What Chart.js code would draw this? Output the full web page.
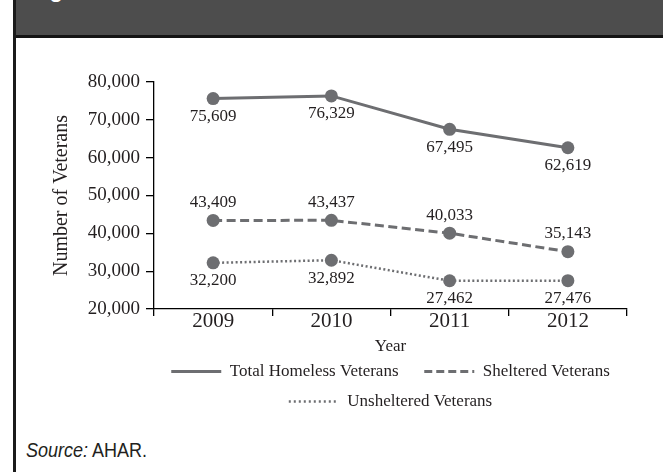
<!DOCTYPE html>
<html>
<head>
<meta charset="utf-8">
<script src="https://cdn.jsdelivr.net/npm/chart.js@4.4.1/dist/chart.umd.min.js"></script>
<style>
  html, body { margin: 0; padding: 0; background: #fff; }
  body { width: 663px; height: 472px; position: relative; overflow: hidden; }
  #frame { position: absolute; left: 13px; top: 0; width: 3px; height: 472px; background: #1b1b1b; }
  #header { position: absolute; left: 16px; top: 0; right: 0; height: 35px; background: #4d4d4d; border-bottom: 3px solid #141414; overflow: hidden; }
  #header span { position: absolute; left: 14px; top: -21px; font: bold 22px/22px "Liberation Sans", Arial, sans-serif; color: #fff; white-space: nowrap; }
  #wrap { position: absolute; left: 16px; top: 38px; width: 647px; height: 395px; }
  #source { position: absolute; left: 26px; top: 438px; font: 20px/24px "Liberation Sans Narrow", "Liberation Sans", Arial, sans-serif; color: #231f20; transform: scaleX(0.9); transform-origin: left top; white-space: nowrap; }
</style>
</head>
<body>
<div id="frame"></div>
<div id="header"><span>Figure</span></div>
<div id="wrap"><canvas id="chart"></canvas></div>
<div id="source"><i>Source:</i> AHAR.</div>
<script>
// data
const years = ['2009', '2010', '2011', '2012'];
const totalHomeless = [75609, 76329, 67495, 62619];
const sheltered = [43409, 43437, 40033, 35143];
const unsheltered = [32200, 32892, 27462, 27476];
const seriesNames = ['Total Homeless Veterans', 'Sheltered Veterans', 'Unsheltered Veterans'];
const yMin = 20000, yMax = 80000, yStep = 10000;

// styling
const gray = '#6d6e71';
const ink = '#231f20';
const serif = "'Liberation Serif', 'Times New Roman', serif";
const dashes = [[], [9, 4.5], [2, 2.5]];
const legendDashes = [[], [8, 4], [2, 3]];
const widths = [3, 3, 2.5];
const labelOffsets = [18, -18, 18]; // below, above, below

const fmt = v => v.toLocaleString('en-US');

// draws the value next to each point
const valueLabels = {
    id: 'valueLabels',
    afterDatasetsDraw(chart) {
        const ctx = chart.ctx;
        ctx.save();
        ctx.font = '17px ' + serif;
        ctx.fillStyle = ink;
        ctx.textAlign = 'center';
        ctx.textBaseline = 'middle';
        chart.data.datasets.forEach((ds, i) => {
            chart.getDatasetMeta(i).data.forEach((pt, j) => {
                ctx.fillText(fmt(ds.data[j]), pt.x, pt.y + labelOffsets[i]);
            });
        });
        ctx.restore();
    }
};

const datasets = [totalHomeless, sheltered, unsheltered].map((values, i) => ({
    label: seriesNames[i],
    data: values,
    borderColor: gray,
    backgroundColor: gray,
    borderWidth: widths[i],
    borderDash: dashes[i],
    pointRadius: 6.5,
    pointHoverRadius: 6.5,
    pointBackgroundColor: gray,
    pointBorderWidth: 0,
    tension: 0
}));

new Chart(document.getElementById('chart'), {
    type: 'line',
    data: { labels: years, datasets },
    options: {
        responsive: true,
        maintainAspectRatio: false,
        animation: false,
        events: [],
        layout: { padding: { left: 30, top: 44, right: 36, bottom: 13 } },
        plugins: {
            tooltip: { enabled: false },
            legend: {
                position: 'bottom',
                fullSize: false,
                labels: {
                    usePointStyle: true,
                    pointStyle: 'line',
                    pointStyleWidth: 50,
                    padding: 13,
                    color: ink,
                    font: { family: serif, size: 17 },
                    generateLabels(chart) {
                        const items = Chart.defaults.plugins.legend.labels.generateLabels(chart);
                        items.forEach((it, i) => {
                            it.strokeStyle = gray;
                            it.lineWidth = widths[i];
                            it.lineDash = legendDashes[i];
                        });
                        items[0].text += '   '; // extra gap after the first entry
                        return items;
                    }
                }
            }
        },
        scales: {
            x: {
                offset: true,
                grid: { offset: true, drawOnChartArea: false, tickLength: 7, color: '#000', lineWidth: 1.3 },
                border: { display: true, color: '#000', width: 1.3 },
                ticks: { color: ink, padding: -5, font: { family: serif, size: 21, lineHeight: 1 } },
                title: {
                    display: true, text: 'Year', color: ink,
                    font: { family: serif, size: 17, lineHeight: 1 },
                    padding: { top: 11, bottom: -5 }
                }
            },
            y: {
                min: yMin,
                max: yMax,
                afterFit(scale) { scale.width = 108; },
                grid: { drawOnChartArea: false, tickLength: 8, color: '#000', lineWidth: 1.3 },
                border: { display: true, color: '#000', width: 1.3 },
                ticks: { stepSize: yStep, color: ink, padding: 6, font: { family: serif, size: 19 }, callback: v => fmt(v) },
                title: {
                    display: true, text: 'Number of Veterans', color: ink,
                    font: { family: serif, size: 20 },
                    padding: { top: 4, bottom: 4 }
                }
            }
        }
    },
    plugins: [valueLabels]
});
</script>
</body>
</html>
